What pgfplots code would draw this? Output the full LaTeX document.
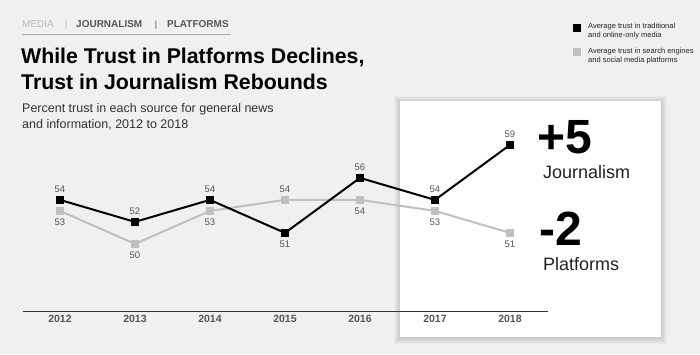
\documentclass[border=0pt]{standalone}
\usepackage{pgfplots}
\pgfplotsset{compat=1.18}
\usepackage{fontspec}
\setmainfont{Liberation Sans}
\definecolor{bgc}{HTML}{F0F0F0}
\definecolor{dark}{HTML}{222222}
\definecolor{mid}{HTML}{555555}
\definecolor{lgray}{HTML}{BBBBBB}
\definecolor{pgray}{HTML}{C0C0C0}
\definecolor{axisc}{HTML}{333333}
\begin{document}
\begin{tikzpicture}
\fill[bgc] (0,0) rectangle (700pt,354pt);
\useasboundingbox (0,0) rectangle (700pt,354pt);
% header
\node[anchor=base west,inner sep=0,font=\fontsize{10}{12}\selectfont,text=lgray] at (22pt,326pt) {MEDIA};
\node[anchor=base,inner sep=0,font=\fontsize{9}{12}\selectfont,text=lgray] at (66pt,326pt) {|};
\node[anchor=base west,inner sep=0,font=\fontsize{10}{12}\selectfont\bfseries,text=mid] at (76pt,326pt) {JOURNALISM};
\node[anchor=base,inner sep=0,font=\fontsize{9}{12}\selectfont,text=mid] at (156pt,326pt) {|};
\node[anchor=base west,inner sep=0,font=\fontsize{10}{12}\selectfont\bfseries,text=mid] at (167pt,326pt) {PLATFORMS};
\draw[color=lgray!90!black,line width=1pt] (22pt,319pt) -- (231pt,319pt);
% title
\node[anchor=base west,inner sep=0,font=\fontsize{21.3}{26}\selectfont\bfseries,text=black] at (21pt,290pt) {While Trust in Platforms Declines,};
\node[anchor=base west,inner sep=0,font=\fontsize{21.3}{26}\selectfont\bfseries,text=black] at (21pt,264pt) {Trust in Journalism Rebounds};
% subtitle
\node[anchor=base west,inner sep=0,font=\fontsize{12.5}{15}\selectfont,text=axisc] at (22pt,241pt) {Percent trust in each source for general news};
\node[anchor=base west,inner sep=0,font=\fontsize{12.5}{15}\selectfont,text=axisc] at (22pt,226pt) {and information, 2012 to 2018};
% legend
\fill[black] (573pt,322pt) rectangle (581pt,330pt);
\fill[pgray] (573pt,298pt) rectangle (581pt,306pt);
\node[anchor=base west,inner sep=0,font=\fontsize{7.5}{9}\selectfont,text=dark] at (588pt,325pt) {Average trust in traditional};
\node[anchor=base west,inner sep=0,font=\fontsize{7.5}{9}\selectfont,text=dark] at (588pt,316pt) {and online-only media};
\node[anchor=base west,inner sep=0,font=\fontsize{7.5}{9}\selectfont,text=dark] at (588pt,300pt) {Average trust in search engines};
\node[anchor=base west,inner sep=0,font=\fontsize{7.5}{9}\selectfont,text=dark] at (588pt,291pt) {and social media platforms};
% white box with soft shadow
\foreach \i in {1,...,6} {
  \fill[black,opacity=0.025] (400pt-\i pt,17pt-\i pt-1pt) rectangle (661pt+\i pt,253pt+\i pt-1pt);
}
\fill[white] (400pt,17pt) rectangle (661pt,253pt);
% big numbers
\node[anchor=base west,inner sep=0,font=\fontsize{48}{50}\selectfont\bfseries,text=black] at (537pt,201pt) {+5};
\node[anchor=base west,inner sep=0,font=\fontsize{18}{20}\selectfont,text=dark] at (543pt,176pt) {Journalism};
\node[anchor=base west,inner sep=0,font=\fontsize{48}{50}\selectfont\bfseries,text=black] at (539pt,109pt) {-2};
\node[anchor=base west,inner sep=0,font=\fontsize{18}{20}\selectfont,text=dark] at (543pt,84pt) {Platforms};
\begin{axis}[
  at={(23pt,43pt)}, anchor=south west,
  scale only axis, width=525pt, height=211pt,
  xmin=2011.507, xmax=2018.507, ymin=43.9, ymax=63.08,
  axis x line*=bottom, axis y line=none,
  x axis line style={-, draw=axisc, line width=1pt},
  xtick={2012,2013,2014,2015,2016,2017,2018},
  xticklabels={2012,2013,2014,2015,2016,2017,2018},
  major tick length=0pt,
  xticklabel style={font=\fontsize{10.5}{12}\selectfont\bfseries, text=mid, yshift=-1pt},
  /pgf/number format/assume math mode=true,
  clip=false,
]
% platforms
\addplot[pgray, line width=2pt, mark=square*, mark size=3pt, mark options={fill=pgray,draw=pgray}] coordinates {
 (2012,53) (2013,50) (2014,53) (2015,54) (2016,54) (2017,53) (2018,51)};
% journalism
\addplot[black, line width=2pt, mark=square*, mark size=3pt, mark options={fill=black,draw=black}] coordinates {
 (2012,54) (2013,52) (2014,54) (2015,51) (2016,56) (2017,54) (2018,59)};
% labels above
\addplot[draw=none, mark=none, nodes near coords,
  every node near coord/.style={anchor=center, yshift=11pt, font=\fontsize{9.5}{10}\selectfont, text=mid}]
 coordinates {(2012,54) (2013,52) (2014,54) (2016,56) (2017,54) (2018,59) (2015,54)};
% labels below
\addplot[draw=none, mark=none, nodes near coords,
  every node near coord/.style={anchor=center, yshift=-11pt, font=\fontsize{9.5}{10}\selectfont, text=mid}]
 coordinates {(2015,51) (2012,53) (2013,50) (2014,53) (2016,54) (2017,53) (2018,51)};
\end{axis}
\end{tikzpicture}
\end{document}
